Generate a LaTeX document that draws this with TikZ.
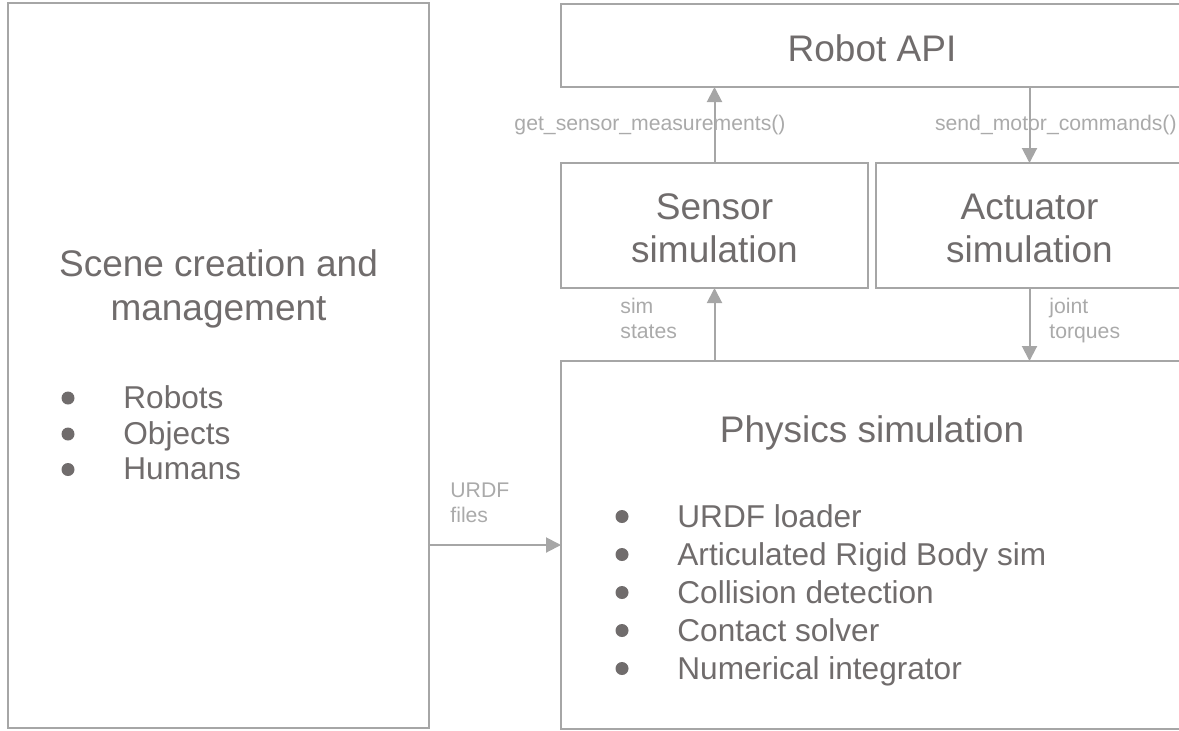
\documentclass[tikz,border=0pt]{standalone}
\usepackage{fontspec}
\setmainfont{Liberation Sans}
\usetikzlibrary{arrows.meta}
\definecolor{linegray}{RGB}{166,166,166}
\definecolor{textgray}{RGB}{112,108,108}
\definecolor{labelgray}{RGB}{170,170,170}
\begin{document}
\begin{tikzpicture}[x=0.5pt,y=-0.5pt,
  box/.style={draw=linegray,line width=1pt,inner sep=0pt,outer sep=0pt},
  big/.style={font=\fontsize{18.5}{21.5}\selectfont,text=textgray,inner sep=0pt,anchor=base},
  item/.style={font=\fontsize{15.8}{19}\selectfont,text=textgray,inner sep=0pt,anchor=base west},
  small/.style={font=\fontsize{10.6}{12.5}\selectfont,text=labelgray,inner sep=0pt,anchor=base west},
  arr/.style={draw=linegray,line width=1pt,-{Triangle[length=7.5pt,width=7.5pt]}},
  dot/.style={circle,fill=textgray,draw=none,inner sep=0pt,minimum size=6.5pt}]
\useasboundingbox (0,0) rectangle (1179,730);
\clip (0,0) rectangle (1179,730);

% boxes
\node[box,minimum width=210.5pt,minimum height=362.5pt] (scene) at (218.5,365.5) {};
\node[box,minimum width=311pt,minimum height=41.5pt] (api) at (872,45.5) {};
\node[box,minimum width=153.5pt,minimum height=62.5pt] (sensor) at (714.5,225.5) {};
\node[box,minimum width=153.5pt,minimum height=62.5pt] (act) at (1029.5,225.5) {};
\node[box,minimum width=311pt,minimum height=184pt] (phys) at (872,545) {};

% connectors
\draw[arr] (sensor.north) -- (sensor.north |- api.south);
\draw[arr] (act.north |- api.south) -- (act.north);
\draw[arr] (sensor.south |- phys.north) -- (sensor.south);
\draw[arr] (act.south) -- (act.south |- phys.north);
\draw[arr] (scene.east |- phys.west) -- (phys.west);

% box texts
\node[big] (apitext) at (872,61) {Robot API};
\node[big] (sens1) at (714.5,219) {Sensor};
\node[big] (sens2) at (714.5,262) {simulation};
\node[big] (act1) at (1029.5,219) {Actuator};
\node[big] (act2) at (1029.5,262) {simulation};
\node[big] (phystext) at (872,442) {Physics simulation};
\node[big] (scene1) at (218.5,276) {Scene creation and};
\node[big] (scene2) at (218.5,320) {management};

% scene list
\node[dot] (sb1) at (68,398) {};
\node[dot] (sb2) at (68,434) {};
\node[dot] (sb3) at (68,469.5) {};
\node[item] (si1) at (123,408) {Robots};
\node[item] (si2) at (123,444) {Objects};
\node[item] (si3) at (123,479.5) {Humans};

% physics list
\node[dot] (pb1) at (622,516.5) {};
\node[dot] (pb2) at (622,554.5) {};
\node[dot] (pb3) at (622,592.5) {};
\node[dot] (pb4) at (622,630.5) {};
\node[dot] (pb5) at (622,668.5) {};
\node[item] (pi1) at (677,527) {URDF loader};
\node[item] (pi2) at (677,565) {Articulated Rigid Body sim};
\node[item] (pi3) at (677,603) {Collision detection};
\node[item] (pi4) at (677,641) {Contact solver};
\node[item] (pi5) at (677,679) {Numerical integrator};

% connector labels
\node[small,anchor=base] (gsm) at (650,130) {get\_sensor\_measurements()};
\node[small,anchor=base east] (smc) at (1177,130) {send\_motor\_commands()};
\node[small] (ss1) at (620,313) {sim};
\node[small] (ss2) at (620,338) {states};
\node[small] (jt1) at (1049,313) {joint};
\node[small] (jt2) at (1049,338) {torques};
\node[small] (uf1) at (450,497) {URDF};
\node[small] (uf2) at (450,522) {files};
\end{tikzpicture}
\end{document}
